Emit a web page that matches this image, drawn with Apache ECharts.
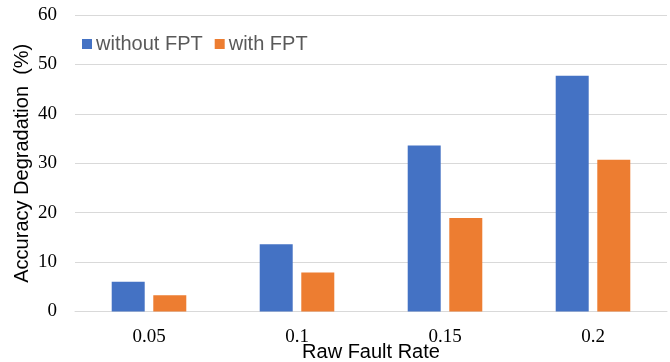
<!DOCTYPE html>
<html>
<head>
<meta charset="utf-8">
<script src="https://cdn.jsdelivr.net/npm/echarts@6/dist/echarts.min.js"></script>
<style>html,body{margin:0;padding:0;background:#fff}#c{width:670px;height:362px}</style>
</head>
<body>
<div id="c"></div>
<script>
var categories = ['0.05', '0.1', '0.15', '0.2'];
var withoutFPT = [6.0, 13.6, 33.6, 47.7];
var withFPT = [3.3, 7.9, 18.9, 30.7];
var yTicks = [0, 10, 20, 30, 40, 50, 60];

var chart = echarts.init(document.getElementById('c'));
chart.setOption({
  animation: false,
  backgroundColor: '#fff',
  grid: {left: 75, right: 3, top: 15, bottom: 50.5, containLabel: false, outerBoundsMode: 'none'},
  legend: {
    left: 77, top: 29,
    itemWidth: 10, itemHeight: 10, itemGap: 12,
    icon: 'rect',
    textStyle: {fontFamily: 'Liberation Sans', fontSize: 20, color: '#595959', padding: [0,0,0,-1]},
    data: ['without FPT', 'with FPT']
  },
  xAxis: {
    type: 'category',
    data: categories,
    name: 'Raw Fault Rate',
    nameLocation: 'middle',
    nameGap: 31,
    nameMoveOverlap: false,
    nameTextStyle: {fontFamily: 'Liberation Sans', fontSize: 20, color: '#000'},
    axisLine: {lineStyle: {color: '#d9d9d9', width: 1}},
    axisTick: {show: false},
    axisLabel: {fontFamily: 'Liberation Serif', fontSize: 19, color: '#000', margin: 16}
  },
  yAxis: {
    type: 'value',
    min: yTicks[0], max: yTicks[yTicks.length - 1], interval: 10,
    name: 'Accuracy Degradation  (%)',
    nameLocation: 'middle',
    nameGap: 43,
    nameMoveOverlap: false,
    nameTextStyle: {fontFamily: 'Liberation Sans', fontSize: 20, color: '#000'},
    axisLine: {show: false},
    axisTick: {show: false},
    splitLine: {lineStyle: {color: '#d9d9d9', width: 1}},
    axisLabel: {fontFamily: 'Liberation Serif', fontSize: 19, color: '#000', margin: 18}
  },
  series: [
    {name: 'without FPT', type: 'bar', data: withoutFPT, barWidth: 33, barGap: '26%',
     itemStyle: {color: '#4472c4'}},
    {name: 'with FPT', type: 'bar', data: withFPT, barWidth: 33, barGap: '26%',
     itemStyle: {color: '#ed7d31'}}
  ]
});
</script>
</body>
</html>
